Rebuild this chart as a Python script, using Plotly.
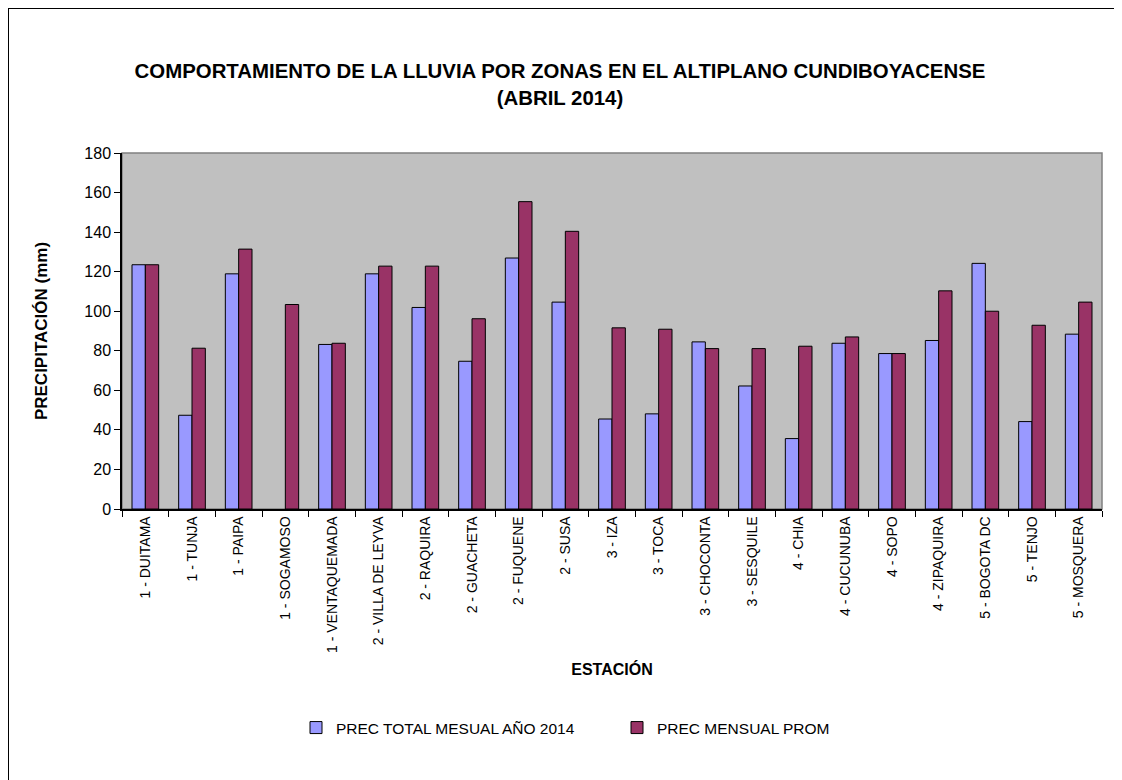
import plotly.graph_objects as go

# ------------------ Data ------------------
estaciones = [
    "1 - DUITAMA", "1 - TUNJA", "1 - PAIPA", "1 - SOGAMOSO", "1 - VENTAQUEMADA",
    "2 - VILLA DE LEYVA", "2 - RAQUIRA", "2 - GUACHETA", "2 - FUQUENE", "2 - SUSA",
    "3 - IZA", "3 - TOCA", "3 - CHOCONTA", "3 - SESQUILE", "4 - CHIA",
    "4 - CUCUNUBA", "4 - SOPO", "4 - ZIPAQUIRA", "5 - BOGOTA DC", "5 - TENJO",
    "5 - MOSQUERA",
]
prec_total_2014 = [
    123.5, 47.4, 118.9, None, 83.2,
    118.9, 101.9, 74.7, 126.9, 104.6,
    45.5, 48.1, 84.5, 62.2, 35.6,
    83.8, 78.6, 85.2, 124.2, 44.2,
    88.4,
]
prec_mensual_prom = [
    123.5, 81.3, 131.4, 103.4, 83.8,
    122.8, 122.8, 96.2, 155.4, 140.4,
    91.6, 90.9, 81.1, 81.1, 82.3,
    87.0, 78.6, 110.3, 100.0, 92.9,
    104.6,
]
y_ticks = [0, 20, 40, 60, 80, 100, 120, 140, 160, 180]

# ------------------ Layout geometry (figure pixels; page adds 8px body margin) ------------------
W, H = 1122, 780
L, R, T, B = 114, 1094, 145, 501


def px_x(p):
    return (p - L) / (R - L)


def px_y(p):
    return (B - p) / (B - T)


FONT = "Liberation Sans, Arial, sans-serif"

fig = go.Figure()
fig.add_trace(go.Bar(
    x=estaciones, y=prec_total_2014,
    name="PREC TOTAL MESUAL AÑO 2014",
    marker=dict(color="#9999FF", line=dict(color="#000000", width=1)),
))
fig.add_trace(go.Bar(
    x=estaciones, y=prec_mensual_prom,
    name="PREC MENSUAL PROM",
    marker=dict(color="#993366", line=dict(color="#000000", width=1)),
))

fig.update_layout(
    width=W, height=H,
    margin=dict(l=L, r=W - R, t=T, b=H - B, autoexpand=False),
    paper_bgcolor="#FFFFFF", plot_bgcolor="#C0C0C0",
    barmode="group", bargap=0.4286, bargroupgap=0,
    font=dict(family=FONT, color="#000000"),
    title=dict(
        text="<b>COMPORTAMIENTO DE LA LLUVIA POR ZONAS EN EL ALTIPLANO CUNDIBOYACENSE<br>(ABRIL 2014)</b>",
        x=552 / W, xanchor="center", xref="container",
        y=1 - 70 / H, yanchor="top", yref="container",
        font=dict(size=20.4, family=FONT, color="#000000"),
    ),
    legend=dict(
        orientation="h",
        x=px_x(288), xanchor="left",
        y=px_y(720), yanchor="middle",
        font=dict(size=15.5, family=FONT),
        entrywidth=276, entrywidthmode="pixels",
        bgcolor="rgba(0,0,0,0)",
        traceorder="normal",
    ),
    showlegend=True,
)

fig.update_xaxes(
    type="category",
    showgrid=False, zeroline=False,
    showline=True, linecolor="#000000", linewidth=1.5,
    ticks="outside", tickson="boundaries", ticklen=6, tickcolor="#000000",
    tickangle=-90, tickfont=dict(size=14, family=FONT),
    title=dict(text="<b>ESTACIÓN</b>", font=dict(size=16, family=FONT), standoff=12),
)
fig.update_yaxes(
    range=[0, 180], tickvals=y_ticks,
    showgrid=False, zeroline=False,
    showline=True, linecolor="#000000", linewidth=1.5,
    ticks="outside", ticklen=6, tickcolor="#000000",
    tickfont=dict(size=16, family=FONT),
    title=dict(text="<b>PRECIPITACIÓN (mm)</b>", font=dict(size=17, family=FONT), standoff=32),
)

# plot area frame (top/right in grey) and outer chart border
fig.add_shape(type="rect", xref="paper", yref="paper", x0=0, x1=1, y0=0, y1=1,
              line=dict(color="#808080", width=1.5), layer="below")
fig.add_shape(type="rect", xref="paper", yref="paper",
              x0=px_x(0), x1=px_x(W + 10), y0=px_y(H + 10), y1=px_y(0),
              line=dict(color="#000000", width=2))

fig.write_html("out.html")
